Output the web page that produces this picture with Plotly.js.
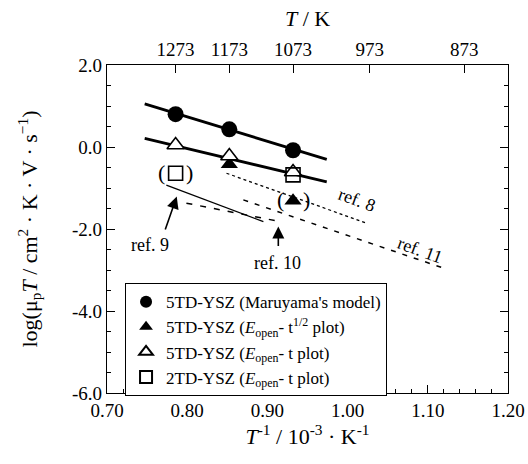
<!DOCTYPE html>
<html>
<head>
<meta charset="utf-8">
<script src="https://cdn.plot.ly/plotly-3.0.1.min.js"></script>
<style>html,body{margin:0;padding:0;background:#fff;}</style>
</head>
<body>
<div id="chart" style="width:528px;height:464px;"></div>
<script>
// ---- data ----
var tempsK = [1273, 1173, 1073];
var invT = tempsK.map(function(t){ return 1000 / t; });

var maruyama = [0.80, 0.43, -0.08];          // filled circles
var tHalfX = [1000/1173, 1000/1073];           // filled triangles
var tHalf = [-0.42, -1.31];
var openTri = [0.05, -0.22, -0.61];           // open triangles
var sq2X = [1000/1273, 1000/1073];             // open squares
var sq2 = [-0.64, -0.68];

var fit1X = [0.747, 0.974], fit1Y = [1.05, -0.30];
var fit2X = [0.747, 0.974], fit2Y = [0.21, -0.85];
var ref8X = [0.849, 1.024], ref8Y = [-0.64, -1.86];
var ref9X = [0.774, 0.895], ref9Y = [-0.93, -1.82];
var ref10X = [0.799, 0.916], ref10Y = [-1.37, -1.82];
var ref11X = [0.870, 1.119], ref11Y = [-1.29, -2.95];

var topTempTicks = [1273, 1173, 1073, 973, 873];
var xTickVals = [0.70, 0.80, 0.90, 1.00, 1.10, 1.20];
var xTickText = ['0.70', '0.80', '0.90', '1.00', '1.10', '1.20'];
var yTickVals = [-6, -4, -2, 0, 2];
var yTickText = ['-6.0', '-4.0', '-2.0', '0.0', '2.0'];

var serif = 'Liberation Serif, serif';

function line(x, y, dash, w) {
  return {x: x, y: y, mode: 'lines', type: 'scatter', showlegend: false, hoverinfo: 'skip',
          line: {color: 'black', width: w, dash: dash}};
}

var traces = [
  line(fit1X, fit1Y, 'solid', 2.8),
  line(fit2X, fit2Y, 'solid', 2.8),
  line(ref8X, ref8Y, 'dot', 1.3),
  line(ref9X, ref9Y, 'solid', 1.3),
  line(ref10X, ref10Y, '6px,8px', 1.5),
  line(ref11X, ref11Y, '5px,7px', 1.5),
  {x: invT, y: maruyama, mode: 'markers', type: 'scatter', name: "5TD-YSZ (Maruyama's model)",
   marker: {symbol: 'circle', size: 16, color: 'black'}},
  {x: tHalfX, y: tHalf, mode: 'markers', type: 'scatter',
   name: '5TD-YSZ (<i>E</i><sub>open</sub>- t<sup>1/2</sup> plot)',
   marker: {symbol: 'triangle-up', size: 15, color: 'black'}},
  {x: invT, y: openTri, mode: 'markers', type: 'scatter',
   name: '5TD-YSZ (<i>E</i><sub>open</sub>- t plot)',
   marker: {symbol: 'triangle-up', size: 15, color: 'white', line: {color: 'black', width: 1.6}}},
  {x: sq2X, y: sq2, mode: 'markers', type: 'scatter',
   name: '2TD-YSZ (<i>E</i><sub>open</sub>- t plot)',
   marker: {symbol: 'square-open', size: 14, color: 'black', line: {color: 'black', width: 1.6}}},
  {x: [], y: [], xaxis: 'x2', yaxis: 'y', type: 'scatter', mode: 'markers', showlegend: false, hoverinfo: 'skip'}
];

function lbl(text, x, y, angle, size) {
  return {text: text, x: x, y: y, xref: 'x', yref: 'y', showarrow: false, textangle: angle,
          font: {family: serif, size: size, color: 'black'}};
}
function arrow(x, y, ax, ay) {
  return {text: '', x: x, y: y, ax: ax, ay: ay, xref: 'x', yref: 'y', axref: 'x', ayref: 'y',
          showarrow: true, arrowhead: 2, arrowsize: 1.5, arrowwidth: 1.6, arrowcolor: 'black'};
}
function paren(ch, x, y, shift) {
  return {text: ch, x: x, y: y, xref: 'x', yref: 'y', showarrow: false, xshift: shift, yshift: 1,
          font: {family: serif, size: 22, color: 'black'}};
}

var annotations = [
  lbl('ref. 8', 1.012, -1.29, 20, 18),
  lbl('ref. 11', 1.090, -2.51, 20, 18),
  lbl('ref. 9', 0.754, -2.39, 0, 18),
  lbl('ref. 10', 0.912, -2.83, 0, 18),
  arrow(0.787, -1.21, 0.772, -2.05),
  arrow(0.9136, -1.94, 0.9136, -2.45),
  paren('(', 1000/1273, sq2[0], -14),
  paren(')', 1000/1273, sq2[0], 14),
  paren('(', 1000/1073, tHalf[1], -13),
  paren(')', 1000/1073, tHalf[1], 13)
];

var tickFont = {family: serif, size: 19, color: 'black'};

var layout = {
  width: 528, height: 464,
  margin: {l: 107, r: 20, t: 65, b: 71},
  paper_bgcolor: 'white', plot_bgcolor: 'white',
  font: {family: serif, color: 'black'},
  xaxis: {
    range: [0.70, 1.20], tickvals: xTickVals, ticktext: xTickText,
    ticks: 'inside', ticklen: 8, tickwidth: 1, tickcolor: 'black',
    minor: {dtick: 0.02, ticks: 'inside', ticklen: 4, tickcolor: 'black'},
    showline: true, linecolor: 'black', linewidth: 1.2, mirror: true,
    showgrid: false, zeroline: false, tickfont: tickFont,
    title: {text: '<i>T</i><sup>-1</sup> / 10<sup>-3</sup> · K<sup>-1</sup>', font: {family: serif, size: 22}, standoff: 8}
  },
  xaxis2: {
    overlaying: 'x', side: 'top', range: [0.70, 1.20],
    tickvals: topTempTicks.map(function(t){ return 1000 / t; }),
    ticktext: topTempTicks.map(String),
    ticks: 'inside', ticklen: 8, tickcolor: 'black',
    showline: true, linecolor: 'black', linewidth: 1.2,
    showgrid: false, zeroline: false, tickfont: tickFont,
    title: {text: '<i>T</i> / K', font: {family: serif, size: 22}, standoff: 6}
  },
  yaxis: {
    range: [-6, 2], tickvals: yTickVals, ticktext: yTickText,
    ticks: 'inside', ticklen: 8, tickcolor: 'black',
    minor: {dtick: 0.5, ticks: 'inside', ticklen: 4, tickcolor: 'black'},
    showline: true, linecolor: 'black', linewidth: 1.2, mirror: 'ticks',
    showgrid: false, zeroline: false, tickfont: tickFont,
    title: {text: 'log(μ<sub>p</sub><i>T</i> / cm<sup>2</sup> · K · V · s<sup>−1</sup>)', font: {family: serif, size: 22}, standoff: 28}
  },
  legend: {
    x: 0.045, y: 0.335, xanchor: 'left', yanchor: 'top',
    bordercolor: 'black', borderwidth: 1, bgcolor: 'white',
    font: {family: serif, size: 17, color: 'black'},
    tracegroupgap: 0, itemsizing: 'constant'
  },
  annotations: annotations,
  showlegend: true
};

Plotly.newPlot('chart', traces, layout, {staticPlot: true, displayModeBar: false});
</script>
</body>
</html>
